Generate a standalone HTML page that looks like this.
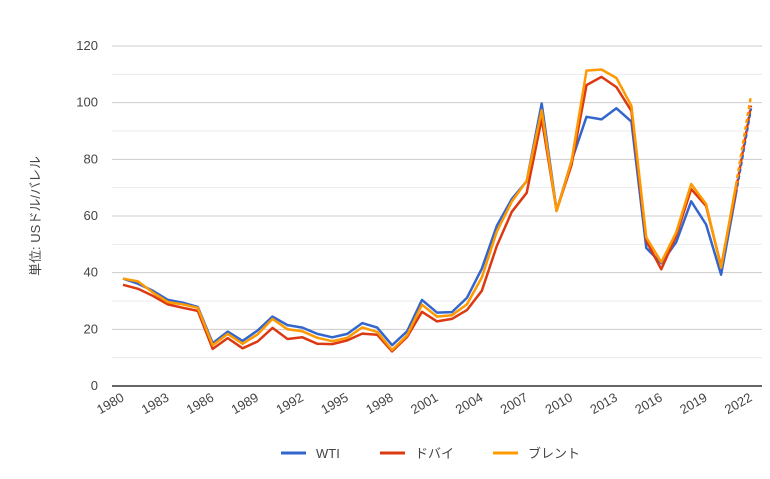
<!DOCTYPE html>
<html><head><meta charset="utf-8"><style>
body{margin:0;background:#fff;}
svg{display:block;font-family:"Liberation Sans","Noto Sans CJK JP",sans-serif;}
</style></head><body>
<svg width="770" height="479" viewBox="0 0 770 479" xmlns="http://www.w3.org/2000/svg">
<g id="grid"></g>
<g id="lines"></g>
<text x="40" y="216" transform="rotate(-90 40 216)" text-anchor="middle" font-size="13" fill="#444">単位: USドル/バレル</text>
<g font-size="13" fill="#444">
<line x1="281" y1="453" x2="306" y2="453" stroke="#3366cc" stroke-width="3"/><text x="316" y="458">WTI</text>
<line x1="380" y1="453" x2="405" y2="453" stroke="#dc3912" stroke-width="3"/><text x="415" y="458">ドバイ</text>
<line x1="493" y1="453" x2="518" y2="453" stroke="#ff9900" stroke-width="3"/><text x="528" y="458">ブレント</text>
</g>
</svg>
<script>
const ns="http://www.w3.org/2000/svg";
const g=document.getElementById('grid'),L=document.getElementById('lines');
function el(t,a,p){const e=document.createElementNS(ns,t);for(const k in a)e.setAttribute(k,a[k]);p.appendChild(e);return e;}
const Y=v=>386-v*340/120, X=i=>123+i*14.952;
for(let v=10;v<=120;v+=10){el('line',{x1:112,x2:762,y1:Y(v),y2:Y(v),stroke:v%20?'#ebebeb':'#cccccc','stroke-width':1},g);}
for(let v=0;v<=120;v+=20){const t=el('text',{x:98,y:Y(v)+4,'text-anchor':'end','font-size':13,fill:'#444'},g);t.textContent=v;}
el('line',{x1:112,x2:762,y1:386,y2:386,stroke:'#333','stroke-width':1.5},g);
for(let i=0;i<=42;i+=3){const x=X(i)+2,y=400;const t=el('text',{x:x,y:y,'text-anchor':'end','font-size':13,fill:'#444',transform:`rotate(-30 ${x} ${y})`},g);t.textContent=1980+i;}
const wti=[37.9,36.1,33.6,30.4,29.4,27.9,15.1,19.2,15.9,19.6,24.5,21.5,20.6,18.4,17.2,18.4,22.2,20.6,14.4,19.3,30.4,25.9,26.1,31.1,41.4,56.5,66.0,72.3,99.7,61.9,79.5,95.0,94.1,98.0,93.3,48.7,43.3,50.8,65.2,57.0,39.3,68.0,98];
const dub=[35.7,34.3,31.8,28.8,27.6,26.5,13.1,16.9,13.3,15.7,20.5,16.6,17.2,14.9,14.8,16.1,18.5,18.1,12.2,17.3,26.2,22.8,23.7,26.8,33.6,49.4,61.5,68.2,94.3,61.9,78.1,106.2,109.1,105.5,97.1,51.2,41.2,53.1,69.5,63.5,42.3,69.2,99];
const bre=[37.9,36.9,33.0,29.6,28.8,27.6,14.4,18.4,14.9,18.2,23.7,20.0,19.3,17.0,15.8,17.0,20.7,19.1,12.7,17.9,28.7,24.5,25.0,28.8,38.3,54.5,65.1,72.4,97.3,61.7,79.5,111.3,111.7,108.7,98.9,52.4,43.7,54.2,71.3,64.2,41.8,70.9,102.5];
function draw(d,c){const p=d.slice(0,42).map((v,i)=>X(i).toFixed(1)+','+Y(v).toFixed(1)).join(' ');
el('polyline',{points:p,fill:'none',stroke:c,'stroke-width':2.5,'stroke-linejoin':'round'},L);
el('line',{x1:X(41),y1:Y(d[41]),x2:X(42),y2:Y(d[42]),stroke:c,'stroke-width':2.5,'stroke-dasharray':'4,3'},L);}
draw(wti,'#3366cc');draw(dub,'#dc3912');draw(bre,'#ff9900');
</script>
</body></html>
